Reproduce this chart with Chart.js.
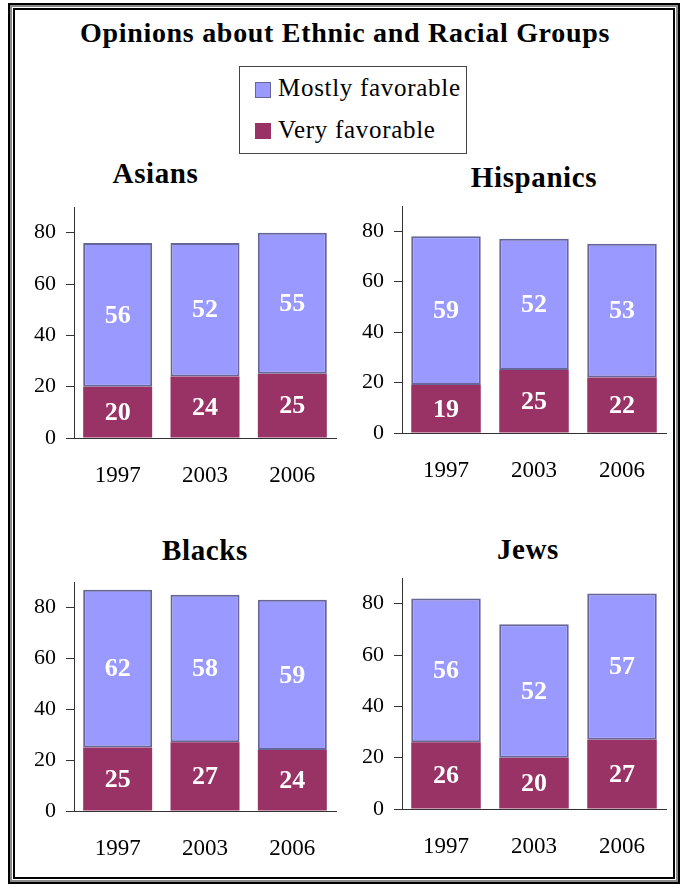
<!DOCTYPE html>
<html>
<head>
<meta charset="utf-8">
<script src="https://cdn.jsdelivr.net/npm/chart.js@4/dist/chart.umd.min.js"></script>
<style>
  html, body { margin: 0; padding: 0; background: #fff; }
  body { width: 681px; height: 886px; position: relative; overflow: hidden; font-family: 'Liberation Serif', 'Times New Roman', serif; }
  .frame1 { position: absolute; left: 8px; top: 3px; width: 672px; height: 881px; box-sizing: border-box; border: 2px solid #000; }
  .frame2 { position: absolute; left: 0; top: 0; right: 0; bottom: 0; border: 2px solid #8a8a8a; }
  .frame3 { position: absolute; left: 1px; top: 1px; right: 1px; bottom: 1px; border: 2px solid #000; }
  .title { position: absolute; left: 0; width: 690px; top: 18.5px; text-align: center; font-weight: bold; font-size: 28px; line-height: 28px; letter-spacing: 0.7px; color: #000; }
  .legend { position: absolute; left: 239px; top: 66px; width: 228px; height: 88px; box-sizing: border-box; border: 1px solid #444; }
  .sw { position: absolute; width: 14px; height: 14px; }
  .lt { position: absolute; font-size: 25px; line-height: 25px; color: #000; letter-spacing: 0.7px; white-space: nowrap; }
  .ptitle { position: absolute; width: 200px; text-align: center; font-weight: bold; font-size: 29px; line-height: 29px; letter-spacing: 0.6px; color: #000; }
  canvas { position: absolute; }
</style>
</head>
<body>
<div class="frame1"><div class="frame2"><div class="frame3"></div></div></div>
<div class="title">Opinions about Ethnic and Racial Groups</div>
<div class="legend" id="legend"></div>
<div id="ptitles"></div>
<canvas id="c0" width="320" height="300" style="left:20px;top:200px"></canvas>
<canvas id="c1" width="322" height="296" style="left:348px;top:199px"></canvas>
<canvas id="c2" width="320" height="298" style="left:20px;top:575px"></canvas>
<canvas id="c3" width="322" height="300" style="left:348px;top:571px"></canvas>
<script>
// ---- Data ----
const years = ['1997', '2003', '2006'];
const yTicks = [0, 20, 40, 60, 80];
const seriesNames = ['Very favorable', 'Mostly favorable'];

const asiansVery = [20, 24, 25];
const asiansMostly = [56, 52, 55];
const hispanicsVery = [19, 25, 22];
const hispanicsMostly = [59, 52, 53];
const blacksVery = [25, 27, 24];
const blacksMostly = [62, 58, 59];
const jewsVery = [26, 20, 27];
const jewsMostly = [56, 52, 57];

const groupNames = ['Asians', 'Hispanics', 'Blacks', 'Jews'];

// ---- Styles ----
const VERY_FILL = '#993366';
const MOSTLY_FILL = '#9999FF';
const MOSTLY_BORDER = '#666699';
const AXIS_COLOR = '#333333';
const FONT = "'Liberation Serif', 'Times New Roman', serif";

// Legend (HTML)
(function () {
  const lg = document.getElementById('legend');
  const items = [
    { name: seriesNames[1], fill: MOSTLY_FILL, border: MOSTLY_BORDER, top: 82, ttop: 75 },
    { name: seriesNames[0], fill: VERY_FILL, border: VERY_FILL, top: 123, ttop: 117 }
  ];
  items.forEach(it => {
    const s = document.createElement('div');
    s.className = 'sw';
    s.style.left = (255 - 240) + 'px';
    s.style.top = (it.top - 67) + 'px';
    s.style.background = it.fill;
    s.style.border = '1px solid ' + it.border;
    lg.appendChild(s);
    const t = document.createElement('div');
    t.className = 'lt';
    t.style.left = (278 - 240) + 'px';
    t.style.top = (it.ttop - 67) + 'px';
    t.textContent = it.name;
    lg.appendChild(t);
  });
})();

// Panel titles (HTML)
const titlePos = [
  { cx: 155.5, top: 159 },
  { cx: 534, top: 163.4 },
  { cx: 205, top: 535.7 },
  { cx: 528, top: 535 }
];
(function () {
  const pt = document.getElementById('ptitles');
  groupNames.forEach((g, i) => {
    const d = document.createElement('div');
    d.className = 'ptitle';
    d.style.left = (titlePos[i].cx - 100) + 'px';
    d.style.top = titlePos[i].top + 'px';
    d.textContent = g;
    pt.appendChild(d);
  });
})();

// Value labels plugin
const valueLabels = {
  id: 'valueLabels',
  afterDatasetsDraw(chart) {
    const ctx = chart.ctx;
    ctx.save();
    ctx.font = 'bold 26px ' + FONT;
    ctx.fillStyle = '#ffffff';
    ctx.textAlign = 'center';
    ctx.textBaseline = 'middle';
    chart.data.datasets.forEach((ds, di) => {
      const meta = chart.getDatasetMeta(di);
      meta.data.forEach((el, i) => {
        const p = el.getProps(['x', 'y', 'base'], true);
        ctx.fillText(String(ds.data[i]), p.x, (p.y + p.base) / 2 + 1);
      });
    });
    ctx.restore();
  }
};

const panels = [
  { id: 'c0', very: asiansVery, mostly: asiansMostly, padTop: 7, xH: 62 },
  { id: 'c1', very: hispanicsVery, mostly: hispanicsMostly, padTop: 7, xH: 62 },
  { id: 'c2', very: blacksVery, mostly: blacksMostly, padTop: 7, xH: 62 },
  { id: 'c3', very: jewsVery, mostly: jewsMostly, padTop: 7, xH: 62 }
];

panels.forEach(p => {
  new Chart(document.getElementById(p.id), {
    type: 'bar',
    data: {
      labels: years,
      datasets: [
        {
          label: seriesNames[0],
          data: p.very,
          backgroundColor: VERY_FILL,
          borderColor: VERY_FILL,
          borderWidth: 0,
          barPercentage: 0.79,
          categoryPercentage: 1.0
        },
        {
          label: seriesNames[1],
          data: p.mostly,
          backgroundColor: MOSTLY_FILL,
          borderColor: MOSTLY_BORDER,
          borderWidth: 2,
          borderSkipped: false,
          barPercentage: 0.79,
          categoryPercentage: 1.0
        }
      ]
    },
    options: {
      responsive: false,
      animation: false,
      devicePixelRatio: 1,
      layout: { padding: { top: p.padTop, right: 4, left: 0, bottom: 0 } },
      plugins: {
        legend: { display: false },
        title: { display: false },
        tooltip: { enabled: false }
      },
      scales: {
        x: {
          stacked: true,
          offset: true,
          grid: { display: false, drawTicks: false },
          border: { display: true, color: AXIS_COLOR, width: 1 },
          ticks: { color: '#000', font: { family: FONT, size: 23 }, padding: 24, maxRotation: 0 },
          afterFit: s => { s.height = p.xH; s.paddingLeft = 0; s.paddingRight = 0; }
        },
        y: {
          stacked: true,
          min: 0,
          max: 90,
          bounds: 'data',
          grid: { display: true, drawOnChartArea: false, drawTicks: true, tickLength: 8, color: AXIS_COLOR },
          border: { display: true, color: AXIS_COLOR, width: 1 },
          ticks: { color: '#000', font: { family: FONT, size: 22 }, padding: 10 },
          afterBuildTicks: s => { s.ticks = yTicks.map(v => ({ value: v })); },
          afterFit: s => { s.width = 54; s.paddingTop = 0; s.paddingBottom = 0; }
        }
      }
    },
    plugins: [valueLabels]
  });
});
</script>
</body>
</html>
